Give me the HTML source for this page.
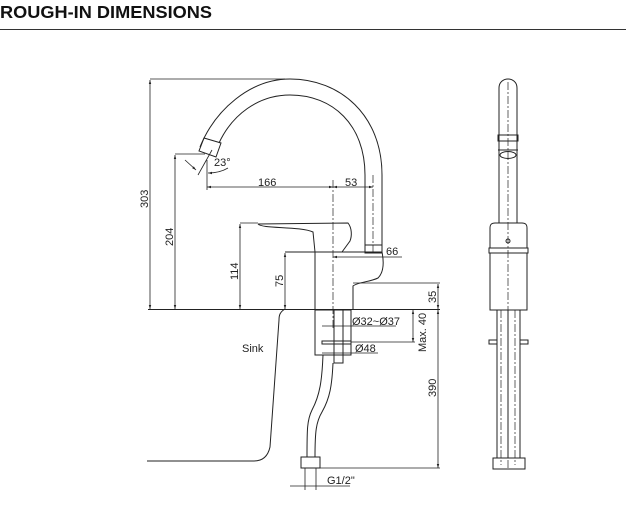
<!DOCTYPE html>
<html><head><meta charset="utf-8"><style>
html,body{margin:0;padding:0;background:#fff;}
svg{display:block;font-family:"Liberation Sans",Arial,sans-serif;}
</style></head><body>
<svg width="626" height="524" viewBox="0 0 626 524" xmlns="http://www.w3.org/2000/svg">
<defs>
<marker id="a" viewBox="0 0 10 10" refX="10" refY="5" markerWidth="7" markerHeight="5" orient="auto-start-reverse"><path d="M0,2 L10,5 L0,8 z" fill="#222"/></marker>
</defs>
<text x="0" y="18" font-size="17.5" font-weight="bold" fill="#111" textLength="212" lengthAdjust="spacingAndGlyphs">ROUGH-IN DIMENSIONS</text>
<line x1="0" y1="29.5" x2="626" y2="29.5" stroke="#333" stroke-width="1"/>

<g fill="none" stroke="#222" stroke-width="1">
<path d="M200,147 C215,110 250,79 290,79 C340,79 382,115 382,175 L382,245"/>
<path d="M219,143 C232,115 258,95 290,95 C333,95 365,125 365,175 L365,245"/>
<path d="M204,138 L221,143 L216,157 L199,151 Z"/>
<rect x="365" y="245" width="17" height="8"/>
<path d="M285,252 L382,252 C384,262 384,272 378,278 C370,282 358,282 353,286 L353,309"/>
<path d="M258,224 L348,223 C352,228 352,236 350,241 L342,252"/>
<path d="M258,224 C262,229 300,226 313,232 L315,252"/>
<line x1="315" y1="252" x2="315" y2="309"/>
<line x1="148" y1="309.5" x2="440" y2="309.5"/>
<path d="M285,309 C280,312 279,315 279,320 L270,447 C268,456 263,461 254,461 L147,461"/>
<rect x="315" y="310" width="36" height="45"/>
<rect x="334" y="310" width="9" height="53"/>
<rect x="322" y="341" width="29" height="3"/>
<path d="M323,355 C322,380 320,395 312,410 C307,420 307,430 307,457"/>
<path d="M333,363 C332,385 330,398 322,412 C316,422 315,432 315,457"/>
<rect x="301" y="457" width="19" height="11"/>
<line x1="150" y1="79" x2="285" y2="79" stroke-width="0.8"/>
<line x1="150" y1="80" x2="150" y2="309" marker-start="url(#a)" marker-end="url(#a)" stroke-width="0.8"/>
<line x1="175" y1="154" x2="205" y2="154" stroke-width="0.8"/>
<line x1="175" y1="155" x2="175" y2="309" marker-start="url(#a)" marker-end="url(#a)" stroke-width="0.8"/>
<line x1="240" y1="223" x2="258" y2="223" stroke-width="0.8"/>
<line x1="240" y1="224" x2="240" y2="309" marker-start="url(#a)" marker-end="url(#a)" stroke-width="0.8"/>
<line x1="285" y1="253" x2="285" y2="309" marker-start="url(#a)" marker-end="url(#a)" stroke-width="0.8"/>
<line x1="207" y1="160" x2="207" y2="190" stroke-width="0.8"/>
<line x1="207" y1="187" x2="333" y2="187" marker-start="url(#a)" marker-end="url(#a)" stroke-width="0.8"/>
<line x1="333" y1="187" x2="373" y2="187" marker-start="url(#a)" marker-end="url(#a)" stroke-width="0.8"/>
<line x1="333" y1="257" x2="402" y2="257" marker-start="url(#a)" stroke-width="0.8"/>
<line x1="353" y1="283" x2="440" y2="283" stroke-width="0.8"/>
<line x1="438" y1="284" x2="438" y2="309" marker-start="url(#a)" marker-end="url(#a)" stroke-width="0.8"/>
<path d="M185,160 L196,170" marker-end="url(#a)" stroke-width="0.8"/>
<line x1="198" y1="175" x2="212" y2="150" stroke-width="0.8"/>
<path d="M208,173 C216,173 223,171 228,168" marker-start="url(#a)" stroke-width="0.8"/>
<line x1="322" y1="326" x2="396" y2="326" stroke-width="0.8"/>
<line x1="322" y1="353" x2="378" y2="353" stroke-width="0.8"/>
<line x1="351" y1="342" x2="415" y2="342" stroke-width="0.8"/>
<line x1="413" y1="310" x2="413" y2="342" marker-start="url(#a)" marker-end="url(#a)" stroke-width="0.8"/>
<line x1="438" y1="310" x2="438" y2="468" marker-start="url(#a)" marker-end="url(#a)" stroke-width="0.8"/>
<line x1="320" y1="468" x2="440" y2="468" stroke-width="0.8"/>
<line x1="290" y1="486" x2="350" y2="486" stroke-width="0.8"/>
<line x1="305" y1="468" x2="305" y2="490" stroke-width="0.8"/>
<line x1="316" y1="468" x2="316" y2="490" stroke-width="0.8"/>
<g stroke-dasharray="8,2,2,2" stroke-width="0.7">
<line x1="333" y1="180" x2="333" y2="330"/>
<line x1="373" y1="175" x2="373" y2="252"/>
<line x1="508" y1="82" x2="508" y2="470"/>
<line x1="501" y1="310" x2="501" y2="465"/>
<line x1="515" y1="310" x2="515" y2="465"/>
</g>
<path d="M499,223 L499,88 C499,76 517,76 517,88 L517,223"/>
<rect x="498" y="135" width="20" height="6"/>
<ellipse cx="508" cy="155" rx="8" ry="3.5"/>
<line x1="498" y1="150" x2="518" y2="150"/>
<path d="M490,228 C490,224 492,223 495,223 L522,223 C525,223 527,224 527,228 L527,248 L490,248 Z"/>
<circle cx="508" cy="241" r="2"/>
<rect x="489" y="248" width="39" height="5"/>
<rect x="490" y="253" width="37" height="57"/>
<rect x="497" y="310" width="23" height="148"/>
<line x1="508" y1="310" x2="508" y2="458"/>
<rect x="489" y="340" width="8" height="4"/>
<rect x="520" y="340" width="8" height="4"/>
<rect x="493" y="458" width="32" height="11"/>
</g>
<g fill="#222" font-size="11">
<text x="258" y="186">166</text>
<text x="345" y="186">53</text>
<text x="386" y="255">66</text>
<text x="214" y="166">23°</text>
<text x="242" y="352">Sink</text>
<text x="352" y="325">Ø32~Ø37</text>
<text x="355" y="352">Ø48</text>
<text x="327" y="484">G1/2"</text>
<text transform="translate(148,208) rotate(-90)">303</text>
<text transform="translate(173,246) rotate(-90)">204</text>
<text transform="translate(238,280) rotate(-90)">114</text>
<text transform="translate(283,287) rotate(-90)">75</text>
<text transform="translate(436,303) rotate(-90)">35</text>
<text transform="translate(426,352) rotate(-90)">Max. 40</text>
<text transform="translate(436,397) rotate(-90)">390</text>
</g>
</svg>
</body></html>
